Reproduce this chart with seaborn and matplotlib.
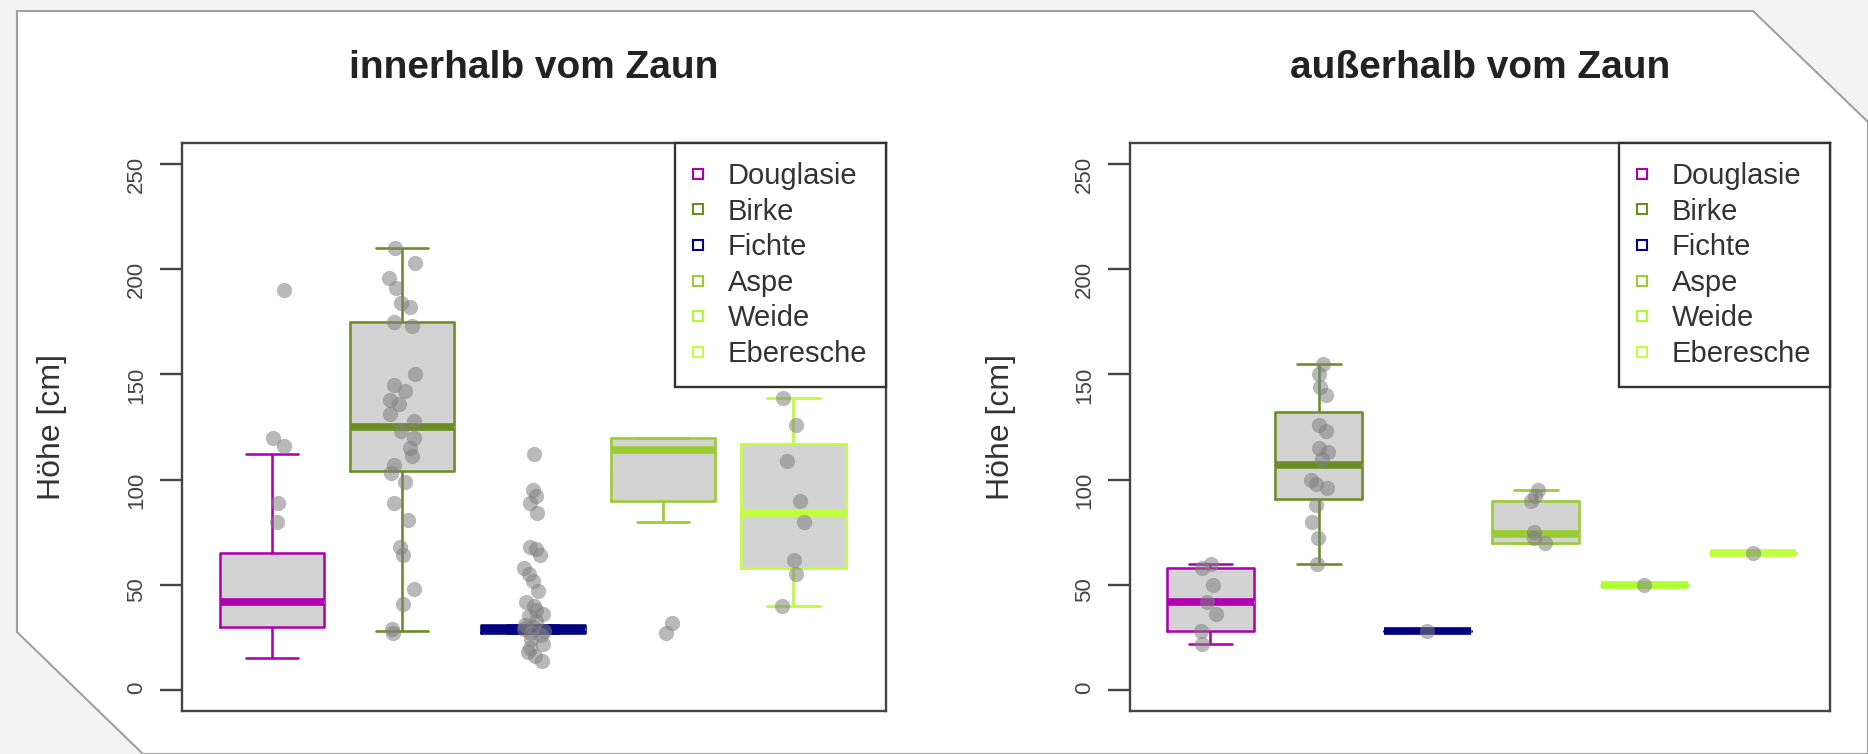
import numpy as np
import pandas as pd
import matplotlib.pyplot as plt
from matplotlib.lines import Line2D
from matplotlib.patches import Polygon
import seaborn as sns

# Baumarten und Farben (Legende)
arten = ["Douglasie", "Birke", "Fichte", "Aspe", "Weide", "Eberesche"]
farben = ["#b000b0", "#6b8e23", "#000080", "#9acd32", "#adff2f", "#c0ff3e"]

# innerhalb vom Zaun: Kennwerte der Boxen (Whisker unten, Q1, Median, Q3, Whisker oben)
innen_arten = ["Douglasie", "Birke", "Fichte", "Aspe", "Eberesche"]
innen_unten = [15, 28, 27, 80, 40]
innen_q1 = [30, 104, 27, 90, 58]
innen_median = [42, 125, 29, 114, 84]
innen_q3 = [65, 175, 31, 120, 117]
innen_oben = [112, 210, 31, 120, 139]

# innerhalb vom Zaun: Einzelmessungen (graue Punkte)
innen_douglasie = [190, 120, 116, 89, 80]
innen_birke = [210, 203, 196, 191, 184, 182, 175, 173, 150, 145, 142, 138, 136, 131,
               128, 123, 120, 115, 111, 107, 103, 99, 89, 81, 68, 64, 48, 41, 29, 27]
innen_fichte = [112, 95, 92, 89, 84, 68, 67, 64, 58, 55, 52, 47, 42, 40, 38, 36, 35,
                33, 31, 30, 29, 28, 27, 26, 24, 22, 20, 18, 16, 14]
innen_aspe = [32, 27]
innen_eberesche = [139, 126, 109, 90, 80, 62, 55, 40]

# außerhalb vom Zaun
aussen_arten = arten
aussen_unten = [22, 60, 28, 70, 50, 65]
aussen_q1 = [28, 91, 28, 70, 50, 65]
aussen_median = [42, 107, 28, 74, 50, 65]
aussen_q3 = [58, 132, 28, 90, 50, 65]
aussen_oben = [60, 155, 28, 95, 50, 65]

aussen_douglasie = [60, 58, 50, 42, 36, 28, 22]
aussen_birke = [155, 150, 144, 140, 126, 123, 115, 113, 110, 100, 98, 96, 88, 80, 72, 60]
aussen_fichte = [28]
aussen_aspe = [95, 92, 90, 75, 72, 70]
aussen_weide = [50]
aussen_eberesche = [65]

sns.set_style("white")
plt.rcParams["font.family"] = ["Liberation Sans", "DejaVu Sans"]
np.random.seed(4)

W, H = 1868, 754
fig = plt.figure(figsize=(W / 100, H / 100), dpi=100, facecolor="#f3f3f3")

# weiße Karte mit abgeschrägten Ecken
ecken = [(17, 11), (1753, 11), (1868, 122), (1868, 754), (143, 754), (17, 632)]
fig.patches.append(Polygon([(x / W, 1 - y / H) for x, y in ecken], closed=True,
                           transform=fig.transFigure, facecolor="white",
                           edgecolor="#a0a0a0", linewidth=1.5, zorder=-10))


def panel(ax, reihe, unten, q1, med, q3, oben, punkte, titel, xlim):
    box_df = pd.DataFrame({
        "Art": np.repeat(reihe, 5),
        "Hoehe": np.column_stack([unten, q1, med, q3, oben]).ravel(),
    })
    pal = {a: farben[arten.index(a)] for a in reihe}
    # graue Füllung
    sns.boxplot(data=box_df, x="Art", y="Hoehe", order=reihe, color="lightgray",
                linecolor="lightgray", saturation=1, width=0.8, whis=(0, 100),
                linewidth=1.8, ax=ax)
    # farbige Linien
    sns.boxplot(data=box_df, x="Art", y="Hoehe", hue="Art", order=reihe, hue_order=reihe,
                palette=pal, fill=False, saturation=1, width=0.8, whis=(0, 100),
                linewidth=1.8, legend=False, ax=ax,
                medianprops={"linewidth": 5.5, "solid_capstyle": "butt"})
    punkt_df = pd.DataFrame({
        "Art": np.concatenate([[a] * len(p) for a, p in zip(reihe, punkte)]),
        "Hoehe": np.concatenate(punkte),
    })
    sns.stripplot(data=punkt_df, x="Art", y="Hoehe", order=reihe, color="#808080",
                  alpha=0.55, size=11, jitter=0.1, linewidth=0, ax=ax)

    ax.set_xlim(xlim)
    ax.set_ylim(-10, 260)
    ax.set_yticks([0, 50, 100, 150, 200, 250])
    ax.set_xticks([])
    ax.set_xlabel("")
    ax.set_ylabel("Höhe [cm]", fontsize=23, color="#333333")
    ax.yaxis.set_label_coords(-0.163, 0.5)
    ax.tick_params(axis="y", left=True, length=16, width=1.7, color="#444444", pad=9,
                   labelsize=16, labelcolor="#444444", labelrotation=90)
    for sp in ax.spines.values():
        sp.set_visible(True)
        sp.set_color("#444444")
        sp.set_linewidth(1.7)
    ax.set_title(titel, fontsize=28, fontweight="bold", color="#222222", pad=47)

    griffe = [Line2D([], [], marker="s", linestyle="", markerfacecolor="none",
                     markeredgecolor=c, markersize=7, markeredgewidth=1.5) for c in farben]
    leg = ax.legend(griffe, arten, loc="upper right", bbox_to_anchor=(1, 1),
                    borderaxespad=0, frameon=True, fancybox=False, framealpha=1,
                    edgecolor="#333333", fontsize=21, labelcolor="#333333",
                    labelspacing=0.26, handlelength=0.3, handletextpad=0.85, borderpad=0.65)
    leg.get_frame().set_linewidth(1.7)


ax1 = fig.add_axes([182 / W, 1 - 711 / H, 704 / W, 568 / H])
ax2 = fig.add_axes([1130 / W, 1 - 711 / H, 700 / W, 568 / H])

panel(ax1, innen_arten, innen_unten, innen_q1, innen_median, innen_q3, innen_oben,
      [innen_douglasie, innen_birke, innen_fichte, innen_aspe, innen_eberesche],
      "innerhalb vom Zaun", (-0.69, 4.71))
panel(ax2, aussen_arten, aussen_unten, aussen_q1, aussen_median, aussen_q3, aussen_oben,
      [aussen_douglasie, aussen_birke, aussen_fichte, aussen_aspe, aussen_weide,
       aussen_eberesche],
      "außerhalb vom Zaun", (-0.74, 5.71))

fig.savefig("out.png", dpi=100, facecolor=fig.get_facecolor())
